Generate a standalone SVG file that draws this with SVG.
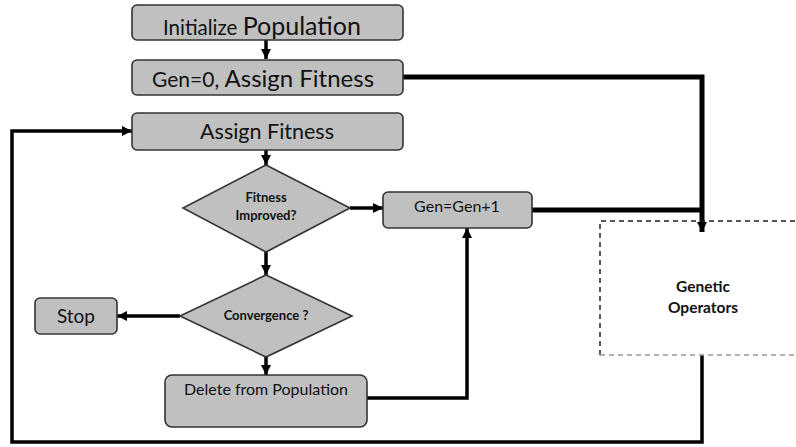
<svg xmlns="http://www.w3.org/2000/svg" width="796" height="447" viewBox="0 0 796 447">
<defs>
<style>
.box{fill:#c0c0c0;stroke:#333;stroke-width:1.6}
.t{font-family:Lato,"Open Sans","Liberation Sans",sans-serif;fill:#111}
.b{font-weight:bold}
.ln{fill:none;stroke:#000;stroke-width:3.5}
.thk{stroke-width:5}
</style>
<marker id="ah" viewBox="0 0 10 10" refX="10" refY="5" markerWidth="10" markerHeight="10" markerUnits="userSpaceOnUse" orient="auto">
<path d="M0,0 L10,5 L0,10 Z" fill="#000"/>
</marker>
</defs>
<rect width="796" height="447" fill="#fff"/>
<g id="connectors">
<line class="ln" x1="266" y1="39" x2="266" y2="59" stroke-width="2.5" marker-end="url(#ah)"/>
<line class="ln" x1="266" y1="150" x2="266" y2="165" stroke-width="2.5" marker-end="url(#ah)"/>
<line class="ln" x1="266" y1="252" x2="266" y2="275" stroke-width="2.5" marker-end="url(#ah)"/>
<line class="ln" x1="266" y1="357" x2="266" y2="375" stroke-width="2.5" marker-end="url(#ah)"/>
<line class="ln" x1="350" y1="208" x2="383" y2="208" marker-end="url(#ah)"/>
<line class="ln" x1="180" y1="316" x2="117" y2="316" marker-end="url(#ah)"/>
<polyline class="ln" points="367,398 467,398 467,228" marker-end="url(#ah)"/>
<polyline class="ln thk" points="403,77 702,77 702,232" marker-end="url(#ah)"/>
<line class="ln thk" x1="532" y1="210" x2="702" y2="210"/>
<polyline class="ln" points="702,355 702,442 12,442 12,131 132,131" marker-end="url(#ah)"/>
</g>
<g id="n-init">
<rect class="box" x="132" y="5" width="271" height="35" rx="5"/>
<text class="t" x="163" y="35"><tspan font-size="20.5">Initialize </tspan><tspan font-size="25">Population</tspan></text>
</g>
<g id="n-gen0">
<rect class="box" x="132" y="60" width="271" height="35" rx="5"/>
<text class="t" x="152" y="87"><tspan font-size="21">Gen=0, </tspan><tspan font-size="24">Assign Fitness</tspan></text>
</g>
<g id="n-assign">
<rect class="box" x="132" y="113" width="271" height="37" rx="5"/>
<text class="t" x="267" y="139" font-size="21.5" text-anchor="middle">Assign Fitness</text>
</g>
<g id="n-improved">
<polygon class="box" points="266,165 350,208 266,252 183,208"/>
<text class="t b" x="266" y="202" font-size="13" text-anchor="middle">Fitness</text>
<text class="t b" x="266" y="220" font-size="13" text-anchor="middle">Improved?</text>
</g>
<g id="n-gen1">
<rect class="box" x="383" y="192" width="149" height="36" rx="5"/>
<text class="t" x="457" y="212" font-size="16" text-anchor="middle">Gen=Gen+1</text>
</g>
<g id="n-conv">
<polygon class="box" points="266,275 352,316 266,357 180,316"/>
<text class="t b" x="266" y="320" font-size="13" text-anchor="middle">Convergence ?</text>
</g>
<g id="n-stop">
<rect class="box" x="35" y="298" width="82" height="36" rx="5"/>
<text class="t" x="76" y="323" font-size="19" text-anchor="middle">Stop</text>
</g>
<g id="n-delete">
<rect class="box" x="165" y="375" width="202" height="52" rx="7"/>
<text class="t" x="266" y="395" font-size="16" text-anchor="middle">Delete from Population</text>
</g>
<g id="n-genetic">
<path d="M600,355 V221 H796" fill="none" stroke="#222" stroke-width="1.5" stroke-dasharray="5,4"/>
<line x1="600" y1="355" x2="796" y2="355" stroke="#999" stroke-width="1.5" stroke-dasharray="5,4"/>
<text class="t b" x="703" y="292" font-size="15.5" text-anchor="middle">Genetic</text>
<text class="t b" x="703" y="313" font-size="15.5" text-anchor="middle">Operators</text>
</g>
</svg>
